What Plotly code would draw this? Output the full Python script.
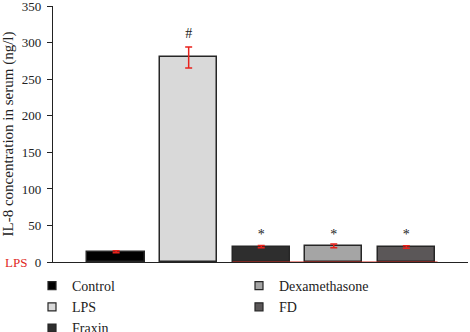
import plotly.graph_objects as go

groups = ["Control", "LPS", "Fraxin", "Dexamethasone", "FD"]
values = [14, 280, 21, 22, 20.5]
errors = [1.5, 14.5, 1.5, 2.5, 1.8]
sig = ["", "#", "*", "*", "*"]
sig_y = [None, 311, 36, 36, 36]
colors = ["#000000", "#d9d9d9", "#2e2e2e", "#a5a5a5", "#5b5758"]
y_ticks = [0, 50, 100, 150, 200, 250, 300, 350]

serif = "Liberation Serif"
fig = go.Figure()
for i, g in enumerate(groups):
    fig.add_trace(go.Bar(
        x=[i], y=[values[i]], name=g, width=0.79, showlegend=False,
        marker=dict(color=colors[i], line=dict(color="#262626", width=1.5)),
        error_y=dict(type="data", array=[errors[i]], color="#e8221c", thickness=1.5, width=3.5),
    ))
# legend entries (small square swatches)
for i, g in enumerate(groups):
    fig.add_trace(go.Scatter(
        x=[None], y=[None], mode="markers", name=g,
        marker=dict(symbol="square", size=8, color=colors[i], line=dict(color="#262626", width=1.2)),
        legend="legend" if i < 3 else "legend2",
    ))

fig.add_trace(go.Scatter(
    x=list(range(len(groups))), y=sig_y, mode="text", text=sig,
    textfont=dict(family=serif, size=14, color="#222"), showlegend=False, hoverinfo="skip",
))
# red baseline under treated groups
fig.add_trace(go.Scatter(
    x=[2 - 0.395, 4 + 0.43], y=[0, 0], mode="lines",
    line=dict(color="#d42a20", width=1.2), showlegend=False, hoverinfo="skip",
))

PL, PR, PT, PB = 53, 468, 6, 262
pw, ph = PR - PL, PB - PT
leg_common = dict(xanchor="left", yanchor="top", orientation="v",
                  font=dict(family=serif, size=14), tracegroupgap=0, itemwidth=30,
                  bgcolor="rgba(0,0,0,0)", borderwidth=0)

fig.update_layout(
    width=470, height=332,
    margin=dict(l=PL, r=470 - PR, t=PT, b=332 - PB, autoexpand=False),
    plot_bgcolor="white", paper_bgcolor="white",
    font=dict(family=serif, size=13, color="#222"),
    bargap=0,
    xaxis=dict(range=[-0.87, 4.85], showticklabels=False, ticks="", showline=True,
               linecolor="#222", linewidth=1.2, showgrid=False, zeroline=False),
    yaxis=dict(range=[0, 350.5], tickvals=y_ticks, ticks="outside", ticklen=5, tickcolor="#222",
               ticklabelstandoff=3, ticklabeloverflow="allow",
               showline=True, linecolor="#222", linewidth=1.2, showgrid=False, zeroline=False,
               title=dict(text="IL-8 concentration in serum (ng/l)", font=dict(family=serif, size=15), standoff=6),
               tickfont=dict(family=serif, size=13)),
    legend=dict(x=(32 - PL) / pw, y=(PB - 270) / ph, **leg_common),
    legend2=dict(x=(239 - PL) / pw, y=(PB - 270) / ph, **leg_common),
    annotations=[dict(text="LPS", x=0, y=0, xref="paper", yref="y", xanchor="left", yanchor="middle",
                      xshift=-50, showarrow=False, font=dict(family=serif, size=13, color="#e0261d"))],
)
fig.write_html("out.html", config={"displayModeBar": False},
               post_script="document.body.style.margin='0';")
